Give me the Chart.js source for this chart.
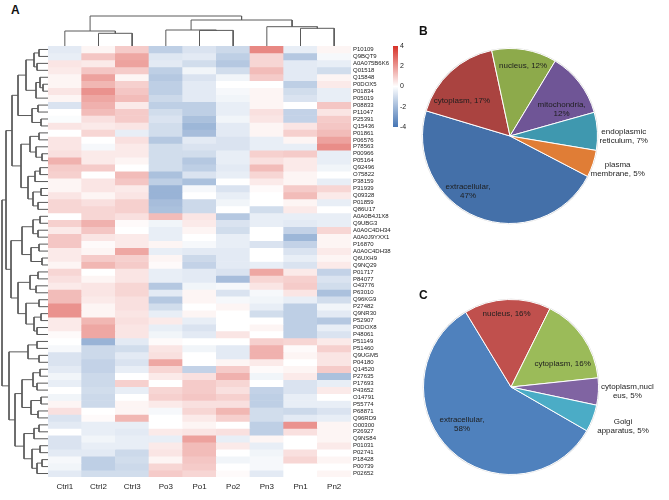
<!DOCTYPE html>
<html>
<head>
<meta charset="utf-8">
<script src="https://cdn.jsdelivr.net/npm/chart.js@4.4.1/dist/chart.umd.min.js"></script>
<style>
  html, body { margin: 0; padding: 0; background: #fff; }
  #wrap { position: relative; width: 669px; height: 500px; overflow: hidden; background: #fff; font-family: "Liberation Sans", Arial, sans-serif; }
  canvas { position: absolute; }
  .panel { position: absolute; font-weight: bold; font-size: 12px; color: #111; }
</style>
</head>
<body>
<div id="wrap">
  <canvas id="rowDendro" width="48" height="464" style="left:0;top:36px"></canvas>
  <canvas id="colDendro" width="303" height="46" style="left:48px;top:0"></canvas>
  <canvas id="heat" width="362" height="464" style="left:38px;top:36px"></canvas>
  <canvas id="cbar" width="30" height="100" style="left:388px;top:36px"></canvas>
  <canvas id="pieB" width="269" height="230" style="left:400px;top:20px"></canvas>
  <canvas id="pieC" width="269" height="230" style="left:400px;top:270px"></canvas>
  <div class="panel" style="left:11px;top:3px">A</div>
  <div class="panel" style="left:419px;top:24px">B</div>
  <div class="panel" style="left:419px;top:288px">C</div>
</div>
<script>
// ---------------- DATA ----------------
const sampleNames = ['Ctrl1', 'Ctrl2', 'Ctrl3', 'Po3', 'Po1', 'Po2', 'Pn3', 'Pn1', 'Pn2'];

const rowIds = ['P10109','Q9BQT9','A0A075B6K6','Q01518','Q15848','P0DOX5','P01834','P05019','P08833','P11047',
  'P25391','Q15436','P01861','P06576','P78563','P00966','P05164','Q92496','O75822','P38159',
  'P31939','Q09328','P01859','Q86U17','A0A0B4J1X8','Q9UBG3','A0A0C4DH34','A0A0J9YXX1','P16870','A0A0C4DH38',
  'Q6UXH9','Q9NQ29','P01717','P84077','O43776','P63010','Q96KG9','P27482','Q9NR30','P52907',
  'P0DOX8','P48061','P51149','P51460','Q9UGM5','P04180','Q14520','P27635','P17693','P43652',
  'O14791','P55774','P68871','Q96RD9','O00300','P26927','Q9NS84','P01031','P02741','P18428',
  'P00739','P02652'];

// z-scores, one row per protein, columns in sampleNames order
const zScores = [
  [-0.6, 0.2, 1.0,-1.4,-0.8,-1.1, 2.3,-0.5, 0.2],
  [-0.5, 1.1, 1.7,-0.7,-0.6,-1.4, 0.8,-1.6,-0.2],
  [ 0.5, 0.4, 1.8,-0.6,-1.0,-1.6, 0.8,-0.6,-0.5],
  [ 0.4, 1.1, 1.0,-1.4,-0.3,-1.0, 1.3,-0.6,-1.0],
  [ 0.2, 1.8, 0.2,-1.6,-0.8,-0.3, 1.0,-0.6, 0.2],
  [ 0.2, 1.4, 0.9,-1.4,-0.6, 0.0, 0.0,-1.4, 0.4],
  [ 0.5, 2.1, 1.1,-1.4,-0.6,-0.2, 0.2,-1.0,-0.5],
  [ 0.2, 1.7, 1.3,-1.1,-0.6,-0.3, 0.2,-0.8,-0.5],
  [-0.8, 1.5, 0.4,-1.4,-1.4,-0.5, 0.2, 0.0, 1.1],
  [ 0.0, 1.3, 1.0,-1.0,-1.4,-0.5, 0.6,-1.3, 0.5],
  [-0.1, 0.6, 1.0,-0.8,-1.8,-0.3, 0.5,-1.3, 1.0],
  [ 0.5, 0.4, 0.5,-1.0,-2.1,-0.6, 0.2, 0.5, 1.1],
  [ 0.0, 0.8,-0.5,-1.0,-1.9,-0.6, 0.2, 0.9, 1.3],
  [ 0.5, 0.0, 0.6,-1.6,-0.6,-0.8,-0.5, 0.2, 1.8],
  [ 0.5,-0.2, 0.4,-1.0,-0.8,-0.8,-0.5,-0.5, 2.2],
  [ 0.6, 0.4, 0.4,-1.0,-1.0,-0.5, 0.9, 1.0,-0.5],
  [ 1.5, 0.4, 0.2,-1.0,-1.6,-0.5, 0.6, 0.4,-0.5],
  [ 1.0, 1.0, 0.0,-1.0,-1.4,-0.6, 1.3, 0.4,-0.3],
  [ 0.9, 0.0, 1.3,-1.8,-0.8,-0.5, 0.8, 0.2, 0.0],
  [ 0.2, 0.5, 1.1,-1.4,-1.8, 0.0, 0.4, 0.2,-0.5],
  [ 0.2, 0.5, 0.4,-2.2,-0.2,-0.8, 0.1, 1.0, 0.8],
  [ 0.5, 0.2, 0.5,-2.2, 0.0,-0.5, 0.0, 1.3, 0.4],
  [ 0.8, 0.6, 0.9,-1.9,-1.1,-0.3, 0.0, 0.2,-0.5],
  [ 0.8, 0.8, 0.9,-1.8,-1.1, 0.0,-1.0, 0.4, 0.0],
  [ 0.0, 0.8, 0.6, 1.3, 0.5,-1.6,-0.5,-0.5,-0.5],
  [ 0.9, 1.5, 0.1,-0.3, 0.4,-0.8,-0.5,-0.6,-0.5],
  [ 0.4, 1.1, 0.0,-0.5, 0.2,-1.0, 0.0,-1.3, 0.8],
  [ 1.1, 0.5, 0.4,-0.5, 0.0,-0.5, 0.0,-2.1, 0.2],
  [ 1.1, 0.1, 0.4, 0.2,-0.2,-0.5,-0.8,-1.3, 0.2],
  [ 0.4, 0.2, 1.7,-0.5,-0.6,-0.6, 0.0,-0.8, 0.4],
  [ 0.4, 1.0, 0.9, 0.2,-1.1,-0.6, 0.0,-0.5, 0.2],
  [ 0.2, 1.4, 1.0, 0.1,-1.3,-0.6,-0.5,-0.8, 0.4],
  [ 0.8, 0.0, 0.5,-0.5,-0.6,-0.8, 1.7, 0.4,-1.3],
  [ 0.6, 0.2, 0.5,-0.5,-0.6,-1.9, 0.8, 0.9,-0.8],
  [ 0.4, 0.5, 0.8,-1.6,-0.3,-0.2, 0.5, 1.0,-1.0],
  [ 1.3, 0.5, 0.8,-0.6, 0.2,-0.8,-0.2, 0.5,-1.8],
  [ 1.3, 0.4, 0.6,-1.6, 0.2,-0.2,-0.3,-0.5,-1.0],
  [ 2.1, 0.2, 0.6,-1.0, 0.0, 0.2,-0.5,-1.4,-0.3],
  [ 2.1, 0.2, 0.5,-0.5, 0.2, 0.0,-1.0,-1.4,-0.6],
  [ 0.4, 1.4, 0.6, 0.4,-0.5, 0.0, 0.0,-1.4,-1.6],
  [ 0.4, 1.7, 0.5,-0.5,-0.8, 0.0, 0.2,-1.4,-0.5],
  [ 0.1, 1.7, 0.5,-0.3,-0.6, 0.5, 0.0,-1.4,-0.8],
  [ 0.0,-2.2,-0.6, 0.1, 0.0, 0.0, 0.9, 0.8, 0.4],
  [-0.2,-1.1,-1.0, 0.5,-0.3,-0.6, 1.5, 0.1, 0.9],
  [-0.8,-1.1,-0.6, 0.6, 0.0,-0.6, 1.5, 0.2, 0.5],
  [-0.8,-1.3,-0.8, 1.7, 0.0, 0.2, 0.4, 0.0, 0.5],
  [-0.6,-1.3,-0.5, 0.8,-1.3, 1.0, 0.1, 0.2, 1.0],
  [-0.3,-1.1, 0.0, 0.4, 0.6, 1.5,-0.3, 0.4,-1.8],
  [-0.5,-1.1, 0.9, 0.0, 1.0, 0.8, 0.0,-0.8,-0.5],
  [ 0.0,-1.0,-0.5, 0.8, 1.0, 0.6,-1.3,-0.8, 0.4],
  [-0.3,-1.1, 0.0, 0.9, 1.1, 0.9,-1.4,-0.5, 0.0],
  [ 0.2,-1.1, 0.2, 0.4, 0.6, 0.6,-1.4,-0.5,-0.5],
  [ 0.6, 0.0, 0.2,-0.2, 0.8, 1.4,-1.0,-1.1,-0.8],
  [-0.8, 0.1, 1.4, 0.0, 0.4, 0.9,-1.0,-0.6,-0.5],
  [-0.6,-0.5,-0.5, 0.0, 0.2, 0.0,-1.4, 2.1, 0.2],
  [ 0.0,-0.5,-0.6, 0.4, 0.5, 0.6,-1.4, 0.6, 0.2],
  [-0.8,-0.3,-0.5,-0.5, 1.8,-0.5, 0.2, 0.0, 0.2],
  [-0.8,-0.5,-0.5, 0.4, 1.3, 0.4,-0.5, 0.0, 0.4],
  [-0.6,-0.6,-1.1, 0.5, 1.3, 0.0,-0.3, 0.6, 0.0],
  [-0.2,-1.4,-1.0, 0.2, 1.1,-0.3,-0.2, 0.8, 0.2],
  [-0.3,-1.4,-1.1, 0.8, 1.0, 0.0,-0.2, 0.0, 0.0],
  [-0.6,-1.0,-1.0, 1.0, 0.8, 0.1,-0.6, 0.0, 0.2]
];

// dendrograms: [mergeHeight, left, right]; leaves are row / column indices
const rowTree =
[46,
  [42,
    [36,
      [30,
        [22, [14, [9, 0, 1], [11, 2, 3]], [12, [8, 4, [5, 5, 6]], 7]],
        [16, [10, 8, 9], [7, 10, 11]]],
      [27,
        [18, [9, 12, 13], [12, 14, [6, 15, 16]]],
        [20, [13, [8, 17, 18], 19], [15, [7, 20, 21], [10, 22, 23]]]]],
    [37,
      [26, [15, [8, 24, 25], [10, 26, 27]], [17, [9, 28, 29], [6, 30, 31]]],
      [30, [18, [10, 32, 33], [12, 34, 35]], [22, [9, 36, 37], [14, [7, 38, 39], [11, 40, 41]]]]]],
  [39,
    [20, [11, 42, 43], [9, 44, 45]],
    [33,
      [26, [15, [8, 46, 47], [11, 48, 49]], [17, [7, 50, 51], [10, 52, 53]]],
      [24, [14, [9, 54, 55], 56], [16, [8, 57, 58], [11, [6, 59, 60], 61]]]]]];

const colTree = [30, [15, 0, [12.7, 1, 2]], [26, [16, 3, [15.6, 4, 5]], [19.3, 6, [17.7, 7, 8]]]];

const colorbarTicks = [-4, -2, 0, 2, 4];

const pieBLabels = ['extracellular', 'cytoplasm', 'nucleus', 'mitochondria', 'endoplasmic reticulum', 'plasma membrane'];
const pieBValues = [47, 17, 12, 12, 7, 5];
const pieBText = [['extracellular,', '47%'], ['cytoplasm, 17%'], ['nucleus, 12%'], ['mitochondria,', '12%'], ['endoplasmic', 'reticulum, 7%'], ['plasma', 'membrane, 5%']];

const pieCLabels = ['extracellular', 'nucleus', 'cytoplasm', 'cytoplasm,nucleus', 'Golgi apparatus'];
const pieCValues = [58, 16, 16, 5, 5];
const pieCText = [['extracellular,', '58%'], ['nucleus, 16%'], ['cytoplasm, 16%'], ['cytoplasm,nucl', 'eus, 5%'], ['Golgi', 'apparatus, 5%']];

// ---------------- STYLE ----------------
const FONT = '"Liberation Sans", Arial, sans-serif';
const LOW = [69, 117, 180], HIGH = [215, 48, 39];
function zColor(v) {
  const t = Math.min(Math.abs(v) / 4, 1);
  const c = v < 0 ? LOW : HIGH;
  return 'rgb(' + c.map(k => Math.round(255 + (k - 255) * t)).join(',') + ')';
}
const pieBColors = ['#4470A9', '#AA4340', '#8DAA4B', '#6F5596', '#3F98AF', '#E07D36'];
const pieCColors = ['#4F81BD', '#C0504D', '#9BBB59', '#8064A2', '#4BACC6'];

Chart.defaults.font.family = FONT;
Chart.defaults.animation = false;
Chart.defaults.responsive = false;
Chart.defaults.plugins.legend.display = false;
Chart.defaults.plugins.tooltip.enabled = false;

// ---------------- HEATMAP ----------------
new Chart(document.getElementById('heat'), {
  type: 'bar',
  data: {
    labels: sampleNames,
    datasets: rowIds.map((id, i) => ({
      label: id,
      data: sampleNames.map(() => 1),
      backgroundColor: zScores[i].map(zColor),
      borderWidth: 0,
      barPercentage: 1,
      categoryPercentage: 1
    }))
  },
  options: {
    layout: { padding: { left: 10, top: 10, right: 0, bottom: 0 } },
    scales: {
      x: {
        stacked: true,
        grid: { display: false, drawTicks: false },
        border: { display: false },
        ticks: { color: '#222', font: { size: 8 }, padding: 5 },
        afterFit: s => { s.height = 23; }
      },
      y: { stacked: true, display: false, min: 0, max: rowIds.length, reverse: true },
      y2: {
        type: 'category', labels: rowIds, position: 'right', offset: true,
        grid: { display: false, drawTicks: false },
        border: { display: false },
        ticks: { color: '#222', font: { size: 6 }, padding: 2, autoSkip: false },
        afterFit: s => { s.width = 49; }
      }
    }
  }
});

// ---------------- DENDROGRAMS ----------------
function treeSegments(node, out) {
  if (typeof node === 'number') return { pos: node + 0.5, h: 0 };
  const [h, a, b] = node;
  const L = treeSegments(a, out), R = treeSegments(b, out);
  out.push([[L.h, L.pos], [h, L.pos], [h, R.pos], [R.h, R.pos]]);
  return { pos: (L.pos + R.pos) / 2, h };
}
const lineStyle = { showLine: true, pointRadius: 0, borderColor: '#5a5a5a', borderWidth: 1, clip: false, fill: false, tension: 0 };

const rowSegs = []; treeSegments(rowTree, rowSegs);
new Chart(document.getElementById('rowDendro'), {
  type: 'scatter',
  data: { datasets: rowSegs.map(s => Object.assign({ data: s.map(p => ({ x: p[0], y: p[1] })) }, lineStyle)) },
  options: {
    layout: { padding: { left: 2, top: 10, right: 0, bottom: 23 } },
    scales: {
      x: { display: false, min: 0, max: rowTree[0], reverse: true },
      y: { display: false, min: 0, max: rowIds.length, reverse: true }
    }
  }
});

const colSegs = []; treeSegments(colTree, colSegs);
new Chart(document.getElementById('colDendro'), {
  type: 'scatter',
  data: { datasets: colSegs.map(s => Object.assign({ data: s.map(p => ({ x: p[1], y: p[0] })) }, lineStyle)) },
  options: {
    layout: { padding: { left: 0, top: 16, right: 0, bottom: 0 } },
    scales: {
      x: { display: false, min: 0, max: sampleNames.length },
      y: { display: false, min: 0, max: colTree[0] }
    }
  }
});

// ---------------- COLOR BAR ----------------
new Chart(document.getElementById('cbar'), {
  type: 'bar',
  data: {
    labels: [''],
    datasets: [{
      data: [[colorbarTicks[0], colorbarTicks[colorbarTicks.length - 1]]],
      barPercentage: 1, categoryPercentage: 1, borderWidth: 0,
      backgroundColor: (c) => {
        const a = c.chart.chartArea;
        if (!a) return '#fff';
        const g = c.chart.ctx.createLinearGradient(0, a.top, 0, a.bottom);
        g.addColorStop(0, zColor(4)); g.addColorStop(0.5, '#ffffff'); g.addColorStop(1, zColor(-4));
        return g;
      }
    }]
  },
  options: {
    layout: { padding: { left: 5, top: 10, right: 0, bottom: 9 } },
    scales: {
      x: { display: false },
      y: {
        position: 'right', min: -4, max: 4,
        grid: { display: false, drawTicks: false }, border: { display: false },
        ticks: { stepSize: 2, color: '#222', font: { size: 7 }, padding: 2 },
        afterFit: s => { s.width = 20; }
      }
    }
  }
});

// ---------------- PIES ----------------
const pieLabelPlugin = {
  id: 'pieLabels',
  afterDatasetsDraw(chart, args, opts) {
    const meta = chart.getDatasetMeta(0);
    const ctx = chart.ctx;
    ctx.save();
    ctx.font = '8px ' + FONT;
    ctx.fillStyle = '#1e1e1e';
    ctx.textAlign = 'center';
    ctx.textBaseline = 'middle';
    meta.data.forEach((arc, i) => {
      const lines = opts.text[i];
      const off = opts.offsets[i];
      const cx = arc.x + off[0] * arc.outerRadius;
      const cy = arc.y + off[1] * arc.outerRadius;
      lines.forEach((t, k) => ctx.fillText(t, cx, cy + (k - (lines.length - 1) / 2) * 9));
    });
    ctx.restore();
  },
  beforeDatasetsDraw(chart) {
    const arc = chart.getDatasetMeta(0).data[0];
    if (!arc) return;
    const ctx = chart.ctx;
    ctx.save();
    ctx.beginPath();
    ctx.arc(arc.x, arc.y, arc.outerRadius + 0.8, 0, Math.PI * 2);
    ctx.fillStyle = 'rgba(170,170,170,0.5)';
    ctx.fill();
    ctx.restore();
  }
};

function makePie(id, labels, values, colors, rotation, text, offsets, pad) {
  new Chart(document.getElementById(id), {
    type: 'pie',
    data: { labels, datasets: [{ data: values, backgroundColor: colors, borderColor: '#ffffff', borderWidth: 1 }] },
    options: {
      rotation,
      layout: { padding: pad },
      plugins: { pieLabels: { text, offsets } }
    },
    plugins: [pieLabelPlugin]
  });
}

makePie('pieB', pieBLabels, pieBValues, pieBColors, 117.5, pieBText,
  [[-0.48, 0.63], [-0.55, -0.40], [0.15, -0.80], [0.59, -0.31], [1.30, 0.0], [1.23, 0.38]],
  { left: 22, top: 28, right: 71, bottom: 26 });

makePie('pieC', pieCLabels, pieCValues, pieCColors, 120, pieCText,
  [[-0.56, 0.43], [-0.05, -0.84], [0.59, -0.26], [1.33, 0.05], [1.28, 0.45]],
  { left: 23, top: 29, right: 70, bottom: 25 });
</script>
</body>
</html>
